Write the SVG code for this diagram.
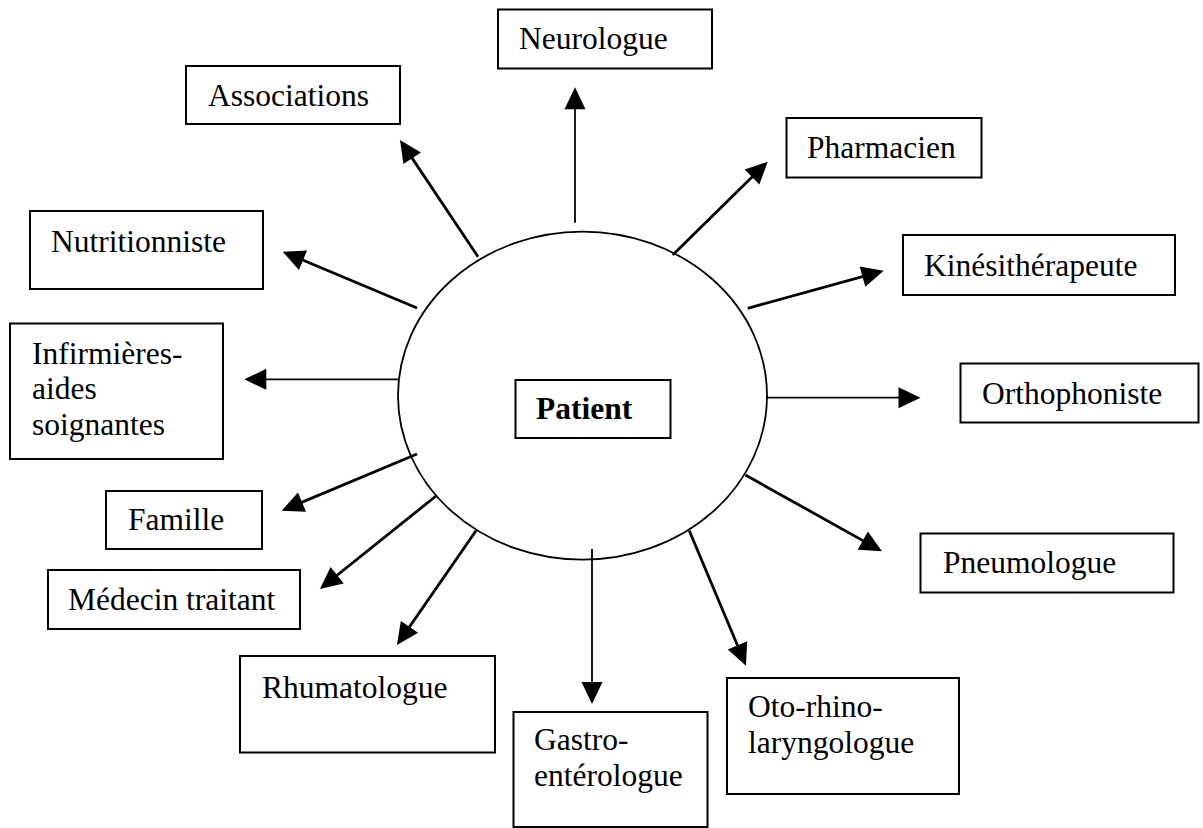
<svg xmlns="http://www.w3.org/2000/svg" width="1203" height="828" viewBox="0 0 1203 828">
<style>
.box{fill:#fff;stroke:#000;stroke-width:2}
.t{font-family:"Liberation Serif","Times New Roman",serif;font-size:31.5px;fill:#000}
.b{font-weight:bold}
.arr{fill:none;stroke:#000;stroke-width:2.8;marker-end:url(#ah)}
.thin{stroke-width:1.8}
</style>
<defs>
<marker id="ah" markerUnits="userSpaceOnUse" markerWidth="22" markerHeight="21" refX="14" refY="10.5" orient="auto" overflow="visible">
<path d="M0,0 L22,10.5 L0,21 z" fill="#000"/>
</marker>
</defs>
<rect width="1203" height="828" fill="#fff"/>
<g id="patient">
<ellipse cx="582.5" cy="395.7" rx="184.5" ry="164" fill="none" stroke="#000" stroke-width="1.8"/>
<rect class="box" x="515.5" y="380" width="155" height="58"/>
<text class="t b" x="536" y="419">Patient</text>
</g>
<g id="connectors">
<line class="arr thin" x1="575" y1="222.7" x2="575" y2="95.3"/>
<line class="arr" x1="478" y1="256.7" x2="404.4" y2="146.6"/>
<line class="arr" x1="672.7" y1="255" x2="762" y2="167.3"/>
<line class="arr" x1="747.7" y1="308.3" x2="876" y2="272.8"/>
<line class="arr thin" x1="767" y1="397.7" x2="912.5" y2="397.7"/>
<line class="arr" x1="745.4" y1="475" x2="875" y2="547.4"/>
<line class="arr" x1="689.3" y1="530.7" x2="742.9" y2="658.3"/>
<line class="arr thin" x1="592" y1="549" x2="592" y2="696"/>
<line class="arr" x1="476" y1="530.7" x2="401.5" y2="638.4"/>
<line class="arr" x1="436" y1="496" x2="326.2" y2="584"/>
<line class="arr" x1="417" y1="454" x2="289.1" y2="507.6"/>
<line class="arr thin" x1="398" y1="379.3" x2="252.3" y2="379.3"/>
<line class="arr" x1="417" y1="308" x2="290.1" y2="254.8"/>
</g>
<g id="neurologue"><rect class="box" x="498" y="9.5" width="214" height="59"/><text class="t" x="519" y="48.5">Neurologue</text></g>
<g id="associations"><rect class="box" x="186" y="66" width="214" height="58"/><text class="t" x="208" y="106">Associations</text></g>
<g id="pharmacien"><rect class="box" x="786.5" y="118" width="195" height="59.5"/><text class="t" x="807" y="157.5">Pharmacien</text></g>
<g id="kinesitherapeute"><rect class="box" x="903" y="235" width="272" height="60"/><text class="t" x="924" y="275.5">Kinésithérapeute</text></g>
<g id="nutritionniste"><rect class="box" x="30" y="211" width="233" height="78"/><text class="t" x="51" y="252">Nutritionniste</text></g>
<g id="infirmieres"><rect class="box" x="10" y="323.5" width="213" height="135.5"/><text class="t" x="32" y="363.5">Infirmières-</text><text class="t" x="32" y="398.5">aides</text><text class="t" x="32" y="435">soignantes</text></g>
<g id="orthophoniste"><rect class="box" x="960.5" y="363.5" width="238" height="59"/><text class="t" x="982" y="403.5">Orthophoniste</text></g>
<g id="famille"><rect class="box" x="106" y="491" width="156" height="58"/><text class="t" x="128" y="529.5">Famille</text></g>
<g id="medecin"><rect class="box" x="48" y="570" width="252" height="59"/><text class="t" x="68" y="609.5">Médecin traitant</text></g>
<g id="pneumologue"><rect class="box" x="920.5" y="533.5" width="253" height="59"/><text class="t" x="943" y="572.5">Pneumologue</text></g>
<g id="rhumatologue"><rect class="box" x="240" y="656" width="255" height="96.5"/><text class="t" x="262" y="697.5">Rhumatologue</text></g>
<g id="gastro"><rect class="box" x="513.5" y="712" width="194" height="115"/><text class="t" x="534" y="749.5">Gastro-</text><text class="t" x="534" y="786">entérologue</text></g>
<g id="oto"><rect class="box" x="727" y="678" width="232" height="116"/><text class="t" x="748" y="716.5">Oto-rhino-</text><text class="t" x="748" y="752.5">laryngologue</text></g>
</svg>
